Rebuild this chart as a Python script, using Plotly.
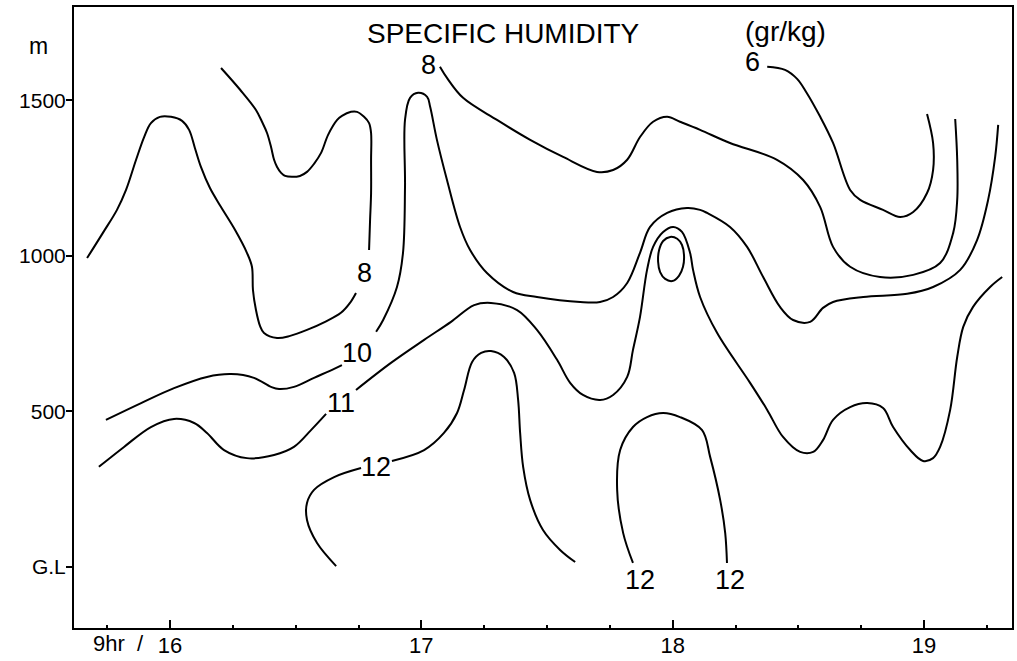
import plotly.graph_objects as go

# ---- Data: contour lines of specific humidity (time in hours, height in m) ----
# 8 g/kg contour (left), segment before its label
c8a_time = [15.670, 15.733, 15.789, 15.825, 15.865, 15.897, 15.924, 15.960, 16.004, 16.048,
            16.076, 16.099, 16.123, 16.159, 16.203, 16.259, 16.306, 16.326, 16.330, 16.342,
            16.358, 16.374, 16.426, 16.478, 16.545, 16.617, 16.680, 16.716, 16.740]
c8a_height = [993, 1074, 1148, 1212, 1309, 1382, 1427, 1447, 1447, 1434,
              1405, 1347, 1286, 1218, 1157, 1083, 1010, 965, 891, 826,
              775, 752, 736, 743, 762, 788, 817, 849, 881]
# 8 g/kg contour (left), segment after its label
c8b_time = [16.792, 16.796, 16.800, 16.800, 16.800, 16.792, 16.772, 16.744, 16.720, 16.684,
            16.665, 16.629, 16.601, 16.573, 16.545, 16.517, 16.485, 16.458, 16.442, 16.426,
            16.414, 16.402, 16.386, 16.366, 16.342, 16.279, 16.203]
c8b_height = [1019, 1116, 1202, 1309, 1395, 1427, 1447, 1463, 1463, 1450,
              1437, 1389, 1331, 1296, 1270, 1257, 1254, 1257, 1267, 1286,
              1309, 1350, 1395, 1431, 1469, 1534, 1604]
# 8 g/kg contour (top)
c8t_time = [17.074, 17.102, 17.166, 17.301, 17.433, 17.564, 17.699, 17.763, 17.819, 17.870,
            17.922, 17.978, 18.029, 18.109, 18.228, 18.415, 18.519, 18.587, 18.638, 18.706,
            18.825, 18.957, 19.064, 19.116, 19.132, 19.132, 19.124]
c8t_height = [1608, 1572, 1508, 1437, 1373, 1318, 1270, 1276, 1309, 1382,
              1431, 1447, 1431, 1405, 1363, 1309, 1244, 1157, 1029, 965,
              932, 939, 977, 1074, 1180, 1309, 1440]
# 6 g/kg contour
c6_time = [18.376, 18.447, 18.495, 18.531, 18.587, 18.638, 18.706, 18.746, 18.837, 18.905,
           18.957, 19.012, 19.036, 19.036, 19.012]
c6_height = [1608, 1598, 1569, 1527, 1447, 1363, 1212, 1180, 1148, 1125,
             1141, 1202, 1276, 1363, 1456]
# 10 g/kg contour
c10a_time = [15.745, 15.885, 16.016, 16.147, 16.243, 16.334, 16.402, 16.434, 16.493, 16.573,
             16.653, 16.684]
c10a_height = [473, 527, 575, 611, 620, 608, 579, 572, 579, 608, 637, 649]
c10b_time = [16.820, 16.848, 16.903, 16.927, 16.935, 16.935, 16.955, 16.987, 17.023, 17.035,
             17.062, 17.102, 17.154, 17.194, 17.261, 17.365, 17.460, 17.632, 17.711, 17.763,
             17.819, 17.870, 17.910, 17.978, 18.057, 18.109, 18.137, 18.228, 18.296, 18.360,
             18.427, 18.479, 18.547, 18.598, 18.638, 18.758, 18.933, 19.036, 19.144, 19.211,
             19.255, 19.283, 19.295]
c10b_height = [756, 794, 900, 1010, 1222, 1437, 1508, 1524, 1511, 1479,
               1373, 1244, 1093, 1019, 945, 884, 868, 852, 852, 868,
               913, 1010, 1093, 1138, 1154, 1148, 1138, 1093, 1029, 932,
               836, 794, 788, 833, 852, 868, 878, 900, 955, 1051,
               1180, 1318, 1421]
# 11 g/kg contour
c11a_time = [15.717, 15.817, 15.924, 16.016, 16.096, 16.147, 16.215, 16.306, 16.414, 16.493,
             16.561, 16.621]
c11a_height = [322, 386, 450, 476, 463, 431, 376, 350, 360, 386, 440, 492]
c11b_time = [16.740, 16.879, 17.011, 17.118, 17.210, 17.277, 17.381, 17.460, 17.540, 17.592,
             17.643, 17.711, 17.763, 17.819, 17.842, 17.870, 17.898, 17.922, 17.962, 18.002,
             18.037, 18.069, 18.081, 18.109, 18.177, 18.308, 18.376, 18.439, 18.507, 18.559,
             18.598, 18.638, 18.706, 18.774, 18.837, 18.877, 18.945, 18.996, 19.036, 19.064,
             19.104, 19.132, 19.156, 19.195, 19.263, 19.311]
c11b_height = [569, 656, 730, 788, 842, 849, 826, 762, 666, 592,
               553, 537, 553, 611, 698, 804, 955, 1029, 1077, 1093,
               1077, 1010, 955, 868, 752, 592, 505, 418, 370, 370,
               408, 473, 514, 527, 511, 450, 376, 341, 350, 386,
               505, 675, 772, 836, 900, 932]
# 12 g/kg contour (left)
c12a_time = [16.760, 16.653, 16.573, 16.545, 16.545, 16.585, 16.661]
c12a_height = [318, 289, 248, 206, 151, 77, 3]
c12b_time = [16.883, 17.011, 17.090, 17.142, 17.170, 17.202, 17.238, 17.277, 17.329, 17.369,
             17.385, 17.393, 17.405, 17.433, 17.484, 17.552, 17.612]
c12b_height = [341, 376, 431, 495, 569, 659, 688, 694, 675, 624,
               537, 431, 322, 215, 119, 55, 16]
# 12 g/kg contour (around 18 hr)
c12c_time = [17.842, 17.803, 17.779, 17.791, 17.842, 17.898, 17.962, 18.029, 18.117, 18.149,
             18.189, 18.209, 18.216]
c12c_height = [13, 109, 248, 376, 450, 482, 495, 482, 440, 354, 215, 109, 13]
# small closed contour at 18 hr
loop_time = [17.990, 18.018, 18.037, 18.045, 18.041, 18.025, 17.998, 17.970, 17.950, 17.942,
             17.946, 17.962, 17.990]
loop_height = [1061, 1055, 1035, 1003, 965, 936, 919, 926, 948, 981, 1019, 1048, 1061]

# contour labels
label_text = ["8", "8", "6", "10", "11", "12", "12", "12"]
label_time = [16.772, 17.027, 18.316, 16.744, 16.680, 16.820, 17.870, 18.228]
label_height = [945, 1614, 1624, 688, 527, 322, -42, -42]

# axes
x_tickvals = [16, 17, 18, 19]
x_ticktext = ["16", "17", "18", "19"]
y_tickvals = [0, 500, 1000, 1500]
y_ticktext = ["G.L", "500", "1000", "1500"]

FONT = "Liberation Sans"

fig = go.Figure()
segments = [
    (c8a_time, c8a_height), (c8b_time, c8b_height), (c8t_time, c8t_height),
    (c6_time, c6_height), (c10a_time, c10a_height), (c10b_time, c10b_height),
    (c11a_time, c11a_height), (c11b_time, c11b_height),
    (c12a_time, c12a_height), (c12b_time, c12b_height), (c12c_time, c12c_height),
    (loop_time, loop_height),
]
for t, h in segments:
    fig.add_trace(go.Scatter(x=t, y=h, mode="lines",
                             line=dict(color="black", width=2, shape="spline", smoothing=1.0),
                             hoverinfo="skip", showlegend=False))

for txt, t, h in zip(label_text, label_time, label_height):
    fig.add_annotation(x=t, y=h, text=txt, showarrow=False,
                       font=dict(family=FONT, size=27, color="black"))

fig.add_annotation(x=17.325, y=1714, text="SPECIFIC HUMIDITY", showarrow=False,
                   font=dict(family=FONT, size=28, color="black"))
fig.add_annotation(x=18.447, y=1722, text="(gr/kg)", showarrow=False,
                   font=dict(family=FONT, size=28, color="black"))
fig.add_annotation(xref="paper", x=-0.05, y=1675, text="m", showarrow=False,
                   font=dict(family=FONT, size=23, color="black"))
fig.add_annotation(x=15.905, xanchor="right", yref="paper", y=-0.025, yanchor="middle",
                   text="9hr&nbsp;&nbsp;/", showarrow=False,
                   font=dict(family=FONT, size=22, color="black"))

fig.update_layout(
    width=1017, height=661,
    margin=dict(l=74, r=5, t=7, b=33),
    paper_bgcolor="white", plot_bgcolor="white",
    font=dict(family=FONT, size=21, color="black"),
)
fig.update_xaxes(range=[15.618, 19.350], showgrid=False, zeroline=False, automargin=False,
                 showline=True, linecolor="black", linewidth=2, mirror=True,
                 tickmode="array", tickvals=x_tickvals, ticktext=x_ticktext,
                 ticks="inside", ticklen=8, tickwidth=2, tickcolor="black",
                 ticklabelstandoff=-3,
                 tickfont=dict(family=FONT, size=22, color="black"),
                 minor=dict(ticks="inside", ticklen=3, tickwidth=1.5, tickcolor="black",
                            tick0=15.75, dtick=0.25, showgrid=False))
fig.update_yaxes(range=[-196, 1800], showgrid=False, zeroline=False, automargin=False,
                 showline=True, linecolor="black", linewidth=2, mirror=True,
                 tickmode="array", tickvals=y_tickvals, ticktext=y_ticktext,
                 ticks="outside", ticklen=6, tickwidth=2, tickcolor="black",
                 ticklabelstandoff=-4,
                 tickfont=dict(family=FONT, size=21, color="black"))

fig.write_html("out.html", config={"displayModeBar": False},
               post_script="document.body.style.margin='0';")
